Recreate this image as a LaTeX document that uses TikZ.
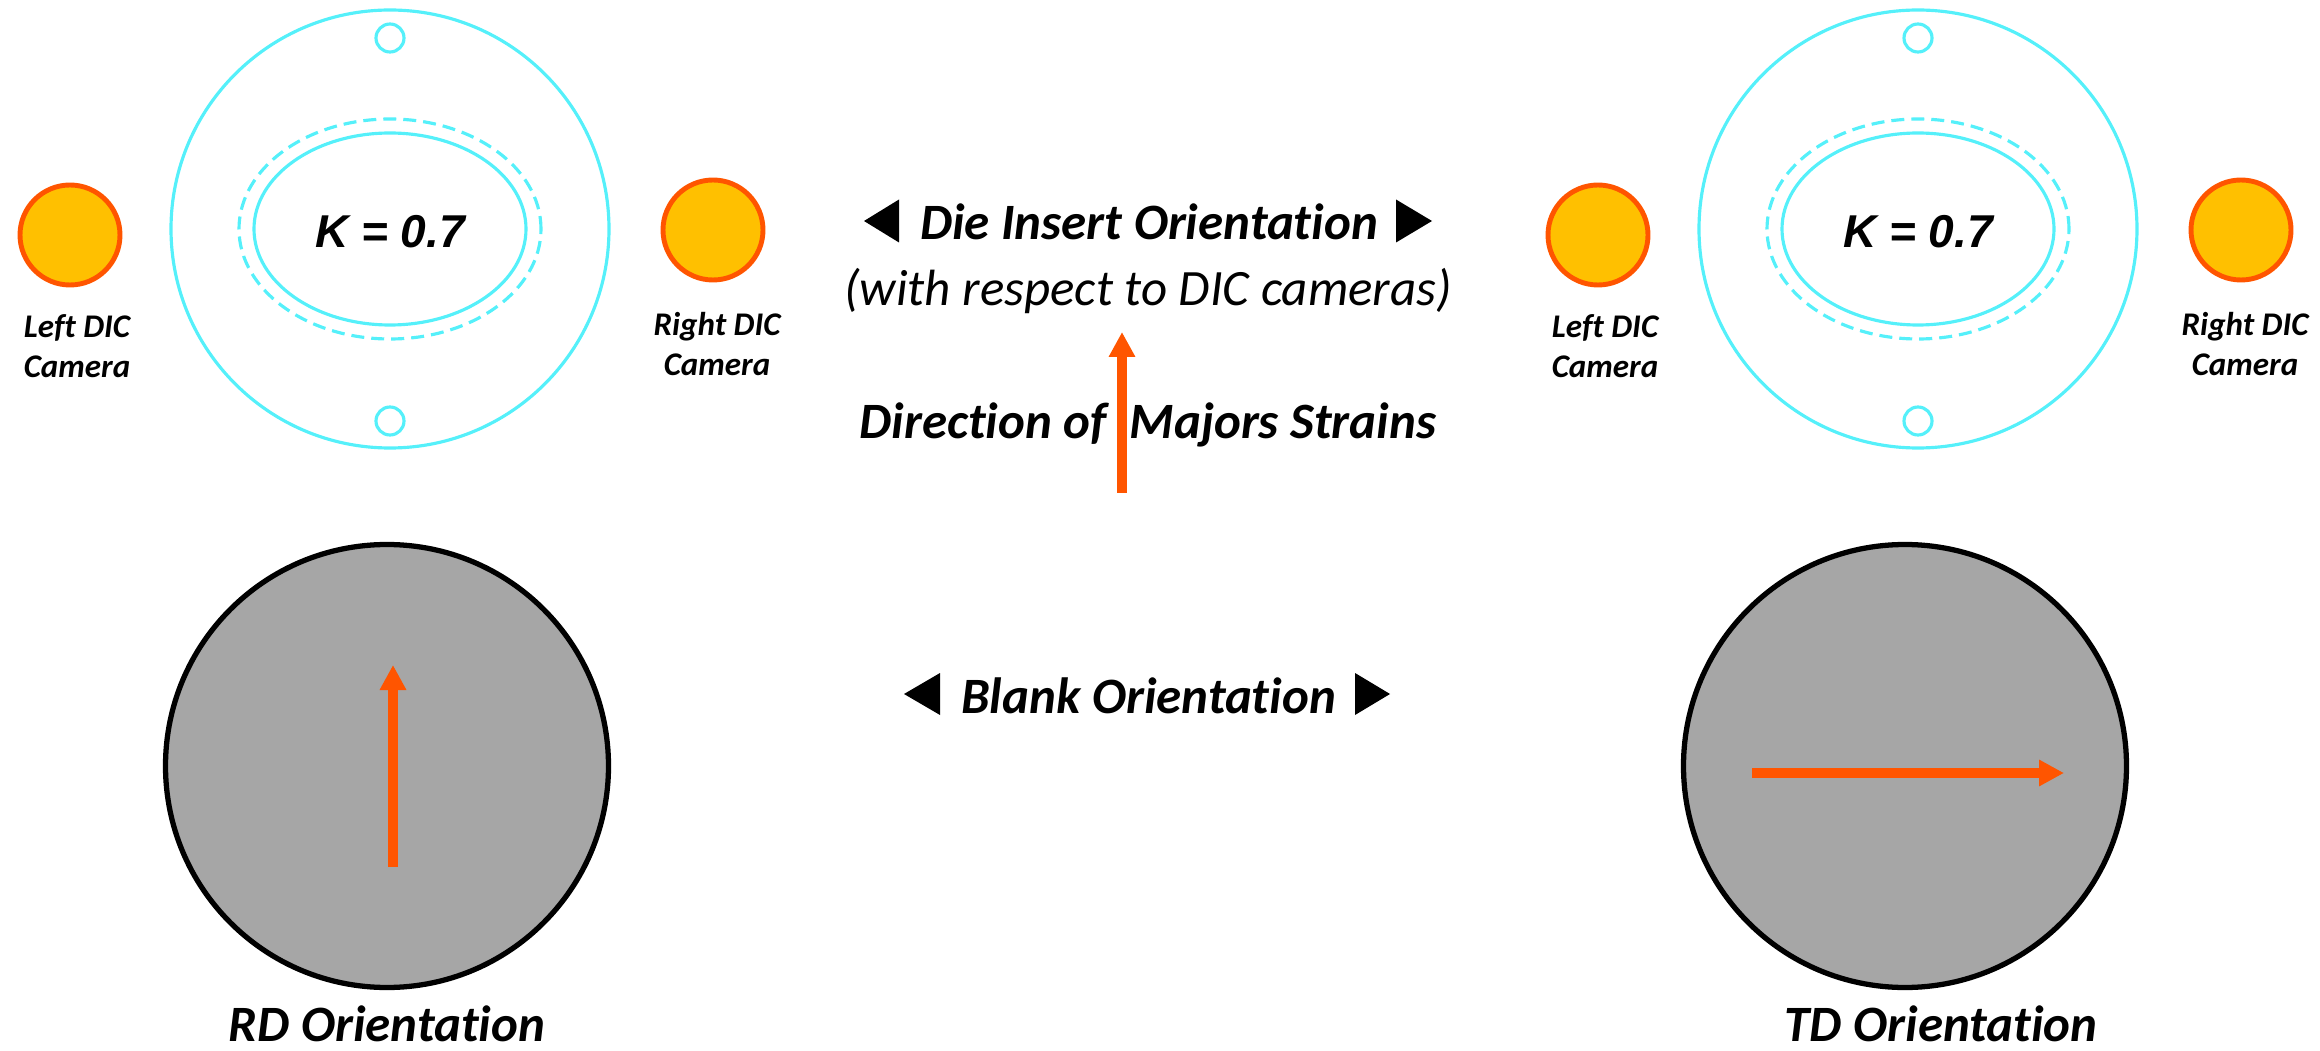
\documentclass[tikz,border=0pt]{standalone}
\usepackage{fontspec}
\setmainfont{Carlito}[Ligatures=NoCommon]
\newfontfamily\kfont{Liberation Sans}
\usetikzlibrary{arrows.meta}

\begin{document}
\begin{tikzpicture}[
    label text/.style={font=\fontsize{14.5}{17}\selectfont\bfseries\itshape},
    cam text/.style={font=\fontsize{9.4}{11.4}\selectfont\bfseries\itshape, align=center},
    camera/.style={circle, draw=strainorange, fill=camyellow, line width=1.4pt, minimum size=1cm, inner sep=0pt},
    strain/.style={strainorange, line width=2.6pt, -{Triangle[width=0.25cm, length=0.25cm]}},
    die line/.style={diecyan, line width=0.9pt},
    blank/.style={draw=black, fill=blankgray, line width=1.5pt},
  ]

  % Define custom colors
  \definecolor{diecyan}{RGB}{85, 240, 250}
  \definecolor{strainorange}{RGB}{255, 85, 0}
  \definecolor{camyellow}{RGB}{255, 192, 0}
  \definecolor{blankgray}{RGB}{166, 166, 166}

  \useasboundingbox (0,0) rectangle (23.2,10.5);

  % Die inserts with cameras
  \foreach \dx/\n in {0/l, 15.28/r} {
    \draw[die line] (3.90+\dx, 8.21) circle (2.19);
    \draw[die line] (3.90+\dx, 10.12) circle (0.14);
    \draw[die line] (3.90+\dx, 6.29) circle (0.14);
    \draw[die line, dash pattern=on 0.13cm off 0.07cm] (3.90+\dx, 8.21) ellipse (1.51 and 1.10);
    \draw[die line] (3.90+\dx, 8.21) ellipse (1.36 and 0.96);
    \node[font=\kfont\fontsize{13.1}{15}\selectfont\bfseries\itshape] (kval\n) at (3.90+\dx, 8.18) {K = 0.7};
    % Cameras
    \node[camera] (lcam\n) at (0.70+\dx, 8.15) {};
    \node[camera] (rcam\n) at (7.13+\dx, 8.20) {};
    \node[cam text] (lcamtext\n) at (0.77+\dx, 7.04) {Left DIC\\Camera};
    \node[cam text] (rcamtext\n) at (7.17+\dx, 7.06) {Right DIC\\Camera};
  }

  % Middle labels
  \node[label text, anchor=base] (insert) at (11.49, 8.10) {Die Insert Orientation};
  \fill (8.64, 8.29) -- (8.99, 8.505) -- (8.99, 8.075) -- cycle;
  \fill (14.32, 8.29) -- (13.96, 8.505) -- (13.96, 8.075) -- cycle;
  \node[font=\fontsize{14.5}{17}\selectfont\itshape, anchor=base] (respect) at (11.48, 7.44) {(with respect to DIC cameras)};
  \node[label text, anchor=base] (major) at (11.48, 6.12) {Direction of\ \ Majors Strains};
  \coordinate (majortail) at (11.22, 5.57);
  \coordinate (majortip) at (11.22, 7.18);
  \draw[strain] (majortail) -- (majortip);

  \node[label text, anchor=base] (blanklabel) at (11.485, 3.37) {Blank Orientation};
  \fill (9.04, 3.56) -- (9.40, 3.77) -- (9.40, 3.35) -- cycle;
  \fill (13.90, 3.56) -- (13.55, 3.77) -- (13.55, 3.35) -- cycle;

  % Blanks
  \node[blank, circle, minimum size=4.43cm, inner sep=0pt] (rdblank) at (3.87, 2.84) {};
  \coordinate (rdtail) at (3.93, 1.83);
  \coordinate (rdtip) at (3.93, 3.85);
  \draw[strain] (rdtail) -- (rdtip);
  \node[label text, anchor=base] (rd) at (3.87, 0.09) {RD Orientation};

  \node[blank, circle, minimum size=4.43cm, inner sep=0pt] (tdblank) at (19.05, 2.84) {};
  \coordinate (tdtail) at (17.52, 2.77);
  \coordinate (tdtip) at (20.64, 2.77);
  \draw[strain] (tdtail) -- (tdtip);
  \node[label text, anchor=base] (td) at (19.41, 0.09) {TD Orientation};

\end{tikzpicture}
\end{document}
